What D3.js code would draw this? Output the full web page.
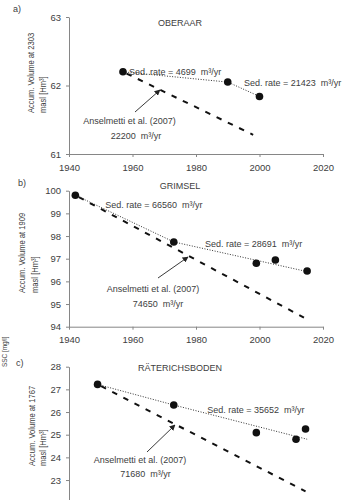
<!DOCTYPE html>
<html>
<head>
<meta charset="utf-8">
<script src="https://cdn.jsdelivr.net/npm/d3@7.9.0/dist/d3.min.js"></script>
<style>
  html, body { margin: 0; padding: 0; background: #fff; }
  svg { display: block; font-family: "Liberation Sans", Arial, sans-serif; }
  text { white-space: pre; }
</style>
</head>
<body>
<div id="chart"></div>
<script>
/* ---------------- DATA ---------------- */

const yearTicks = [1940, 1960, 1980, 2000, 2020];

// a) Oberaar
const oberaarYears = [1957, 1990, 2000];
const oberaarVolume = [62.2, 62.05, 61.84];
const oberaarTrendYears = [1957, 1990, 2000];
const oberaarTrendVolume = [62.2, 62.05, 61.84];
const oberaarAnsYears = [1957, 1998];
const oberaarAnsVolume = [62.2, 61.28];
const oberaarTicks = [61, 62, 63];

// b) Grimsel
const grimselYears = [1942, 1973, 1999, 2005, 2015];
const grimselVolume = [99.8, 97.74, 96.8, 96.94, 96.46];
const grimselTrendYears = [1942, 1973, 2016];
const grimselTrendVolume = [99.8, 97.74, 96.4];
const grimselAnsYears = [1942, 2014];
const grimselAnsVolume = [99.8, 94.4];
const grimselTicks = [94, 95, 96, 97, 98, 99, 100];

// c) Räterichsboden
const raeterYears = [1949, 1973, 1999, 2011.5, 2014.5];
const raeterVolume = [27.22, 26.31, 25.09, 24.8, 25.25];
const raeterTrendYears = [1949, 1973, 2015];
const raeterTrendVolume = [27.22, 26.31, 24.8];
const raeterAnsYears = [1949, 2014.5];
const raeterAnsVolume = [27.22, 22.5];
const raeterTicks = [22, 23, 24, 25, 26, 27, 28];

/* ---------------- LAYOUT ---------------- */

const width = 352;
const height = 500;
const xRange = [69, 323];
const textColor = "#404040";
const axisColor = "#868686";

const zip = (xs, ys) => xs.map((x, i) => [x, ys[i]]);

const panels = [
  {
    letter: "a)", letterPos: [13, 12],
    title: "OBERAAR", titleY: 26,
    yDomain: [61, 63], yRange: [154, 17], yTicks: oberaarTicks, showX: true,
    points: zip(oberaarYears, oberaarVolume),
    trend: zip(oberaarTrendYears, oberaarTrendVolume),
    ans: zip(oberaarAnsYears, oberaarAnsVolume),
    ylabel: ["Accum. Volume at 2303", "masl [Hm³]"], ylabelX: [34, 46], ylabelY: 113,
    sed: [["Sed. rate = 4699  m³/yr", 129, 75], ["Sed. rate = 21423  m³/yr", 244, 86]],
    ansText: [["Anselmetti et al. (2007)", 129.5, 124], ["22200  m³/yr", 136, 139]],
    arrow: [[135, 112], [160, 90]]
  },
  {
    letter: "b)", letterPos: [18, 186],
    title: "GRIMSEL", titleY: 189,
    yDomain: [94, 100], yRange: [326.7, 190.7], yTicks: grimselTicks, showX: true,
    points: zip(grimselYears, grimselVolume),
    trend: zip(grimselTrendYears, grimselTrendVolume),
    ans: zip(grimselAnsYears, grimselAnsVolume),
    ylabel: ["Accum. Volume at 1909", "masl [Hm³]"], ylabelX: [24.5, 37.5], ylabelY: 293,
    sed: [["Sed. rate = 66560  m³/yr", 105.3, 208], ["Sed. rate = 28691  m³/yr", 205, 247]],
    ansText: [["Anselmetti et al. (2007)", 153, 292], ["74650  m³/yr", 158, 307]],
    arrow: [[158, 278], [188, 257]]
  },
  {
    letter: "c)", letterPos: [16, 366],
    title: "RÄTERICHSBODEN", titleY: 370.5,
    yDomain: [22, 28], yRange: [502.7, 366.7], yTicks: raeterTicks, showX: false,
    points: zip(raeterYears, raeterVolume),
    trend: zip(raeterTrendYears, raeterTrendVolume),
    ans: zip(raeterAnsYears, raeterAnsVolume),
    ylabel: ["Accum. Volume at 1767", "masl [Hm³]"], ylabelX: [35, 45.5], ylabelY: 466,
    sed: [["Sed. rate = 35652  m³/yr", 207.3, 413]],
    ansText: [["Anselmetti et al. (2007)", 140, 462.5], ["71680  m³/yr", 145.5, 477]],
    arrow: [[147, 452], [175, 425]]
  }
];

/* ---------------- DRAW ---------------- */

const svg = d3.select("#chart")
  .append("svg")
  .attr("width", width)
  .attr("height", height)
  .attr("viewBox", `0 0 ${width} ${height}`);

svg.append("defs").append("marker")
  .attr("id", "arrow")
  .attr("viewBox", "0 0 10 10")
  .attr("refX", 9)
  .attr("refY", 5)
  .attr("markerWidth", 6)
  .attr("markerHeight", 6)
  .attr("markerUnits", "userSpaceOnUse")
  .attr("orient", "auto")
  .append("path")
  .attr("d", "M0,0 L10,5 L0,10 z")
  .attr("fill", "#222");

const xScale = d3.scaleLinear().domain([1940, 2020]).range(xRange);

function styleAxis(g) {
  g.attr("font-family", null).attr("font-size", null);
  g.select(".domain").attr("stroke", axisColor);
  g.selectAll(".tick line").attr("stroke", axisColor);
  g.selectAll(".tick text").attr("fill", textColor).style("font-size", "9.5px");
}

panels.forEach(p => {
  const yScale = d3.scaleLinear().domain(p.yDomain).range(p.yRange);
  const g = svg.append("g");

  // axes
  g.append("g")
    .attr("transform", `translate(${xRange[0]},0)`)
    .call(d3.axisLeft(yScale).tickValues(p.yTicks).tickFormat(d3.format("d"))
      .tickSize(3).tickSizeOuter(0).tickPadding(5))
    .call(styleAxis);

  // panel c's year axis lies below the picture's lower edge
  if (p.showX) {
    g.append("g")
      .attr("transform", `translate(0,${p.yRange[0]})`)
      .call(d3.axisBottom(xScale).tickValues(yearTicks).tickFormat(d3.format("d"))
        .tickSize(3).tickSizeOuter(0).tickPadding(7))
      .call(styleAxis);
  }

  const line = d3.line().x(d => xScale(d[0])).y(d => yScale(d[1]));

  // Anselmetti et al. rate (dashed)
  g.append("path")
    .attr("d", line(p.ans))
    .attr("fill", "none")
    .attr("stroke", "#111")
    .attr("stroke-width", 2)
    .attr("stroke-dasharray", "5.5,7")
    .attr("stroke-dashoffset", -4);

  // sedimentation trend (dotted)
  g.append("path")
    .attr("d", line(p.trend))
    .attr("fill", "none")
    .attr("stroke", "#333")
    .attr("stroke-width", 1)
    .attr("stroke-dasharray", "1,1.6");

  // survey points
  g.selectAll("circle")
    .data(p.points)
    .join("circle")
    .attr("cx", d => xScale(d[0]))
    .attr("cy", d => yScale(d[1]))
    .attr("r", 3.8)
    .attr("fill", "#111");

  // arrow
  g.append("line")
    .attr("x1", p.arrow[0][0]).attr("y1", p.arrow[0][1])
    .attr("x2", p.arrow[1][0]).attr("y2", p.arrow[1][1])
    .attr("stroke", "#222")
    .attr("stroke-width", 0.9)
    .attr("marker-end", "url(#arrow)");

  // texts
  const txt = g.append("g").attr("fill", textColor).style("font-size", "9px");

  txt.append("text")
    .attr("x", p.letterPos[0]).attr("y", p.letterPos[1])
    .text(p.letter);

  txt.append("text")
    .attr("x", 180).attr("y", p.titleY)
    .attr("text-anchor", "middle")
    .text(p.title);

  p.sed.forEach(([t, x, y]) => {
    txt.append("text").attr("x", x).attr("y", y).text(t);
  });

  p.ansText.forEach(([t, x, y]) => {
    txt.append("text").attr("x", x).attr("y", y).attr("text-anchor", "middle").text(t);
  });

  p.ylabel.forEach((t, i) => {
    txt.append("text")
      .attr("transform", `translate(${p.ylabelX[i]},${p.ylabelY}) rotate(-90) scale(0.8,1)`)
      .style("font-size", "9.5px")
      .text(t);
  });
});

// stray axis title at the left of panel c
svg.append("text")
  .attr("transform", "translate(7,367) rotate(-90) scale(0.8,1)")
  .attr("fill", textColor)
  .style("font-size", "8px")
  .text("SSC [mg/l]");
</script>
</body>
</html>
